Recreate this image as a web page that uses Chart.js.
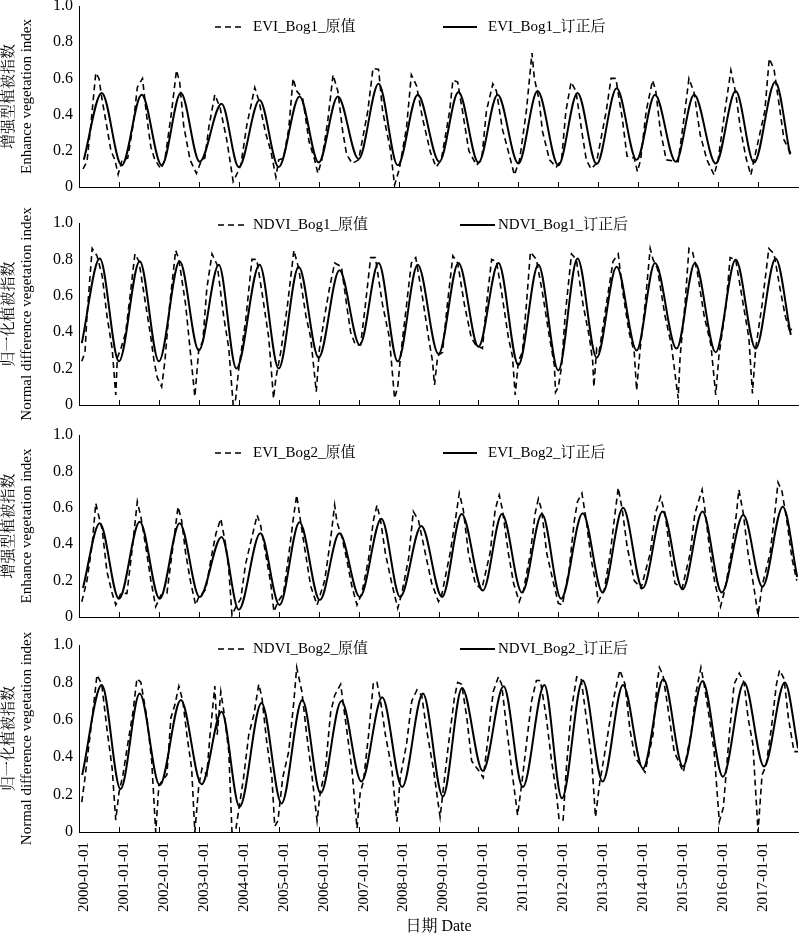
<!DOCTYPE html>
<html>
<head>
<meta charset="utf-8">
<script src="https://cdn.jsdelivr.net/npm/chart.js@4.4.0/dist/chart.umd.min.js"></script>
<style>
  html, body { margin: 0; padding: 0; background: #fff; }
  body { width: 800px; height: 936px; position: relative; overflow: hidden; }
  canvas { position: absolute; left: 0; }
</style>
</head>
<body>
<canvas id="c1"></canvas>
<canvas id="c2"></canvas>
<canvas id="c3"></canvas>
<canvas id="c4"></canvas>
<script>
// tick years on the date axis
const tickYears = [2000, 2001, 2002, 2003, 2004, 2005, 2006, 2007, 2008, 2009,
                   2010, 2011, 2012, 2013, 2014, 2015, 2016, 2017];

// [decimal year, index value]
const eviBog1Raw = [
  [2000.1,0.10],[2000.2,0.14],[2000.3,0.35],[2000.42,0.63],[2000.5,0.60],[2000.58,0.48],[2000.7,0.33],[2000.8,0.20],[2000.9,0.15],[2000.98,0.07],[2001.08,0.15],[2001.22,0.16],
  [2001.36,0.35],[2001.46,0.55],[2001.59,0.60],[2001.7,0.38],[2001.8,0.22],[2001.9,0.15],[2002.05,0.10],[2002.15,0.15],
  [2002.32,0.42],[2002.44,0.645],[2002.52,0.58],[2002.62,0.34],[2002.78,0.15],[2002.94,0.075],[2003.07,0.15],[2003.15,0.16],
  [2003.25,0.33],[2003.4,0.51],[2003.53,0.44],[2003.7,0.26],[2003.86,0.03],[2003.97,0.08],[2004.05,0.12],
  [2004.2,0.34],[2004.4,0.55],[2004.5,0.48],[2004.67,0.30],[2004.8,0.20],[2004.93,0.055],[2005.0,0.15],[2005.12,0.16],
  [2005.25,0.32],[2005.36,0.60],[2005.45,0.53],[2005.6,0.49],[2005.76,0.25],[2005.9,0.15],[2005.98,0.075],[2006.08,0.15],
  [2006.23,0.37],[2006.36,0.62],[2006.48,0.53],[2006.6,0.31],[2006.7,0.18],[2006.84,0.13],[2007.0,0.15],
  [2007.23,0.42],[2007.36,0.655],[2007.5,0.65],[2007.6,0.42],[2007.8,0.20],[2007.9,0.01],[2008.02,0.10],
  [2008.2,0.33],[2008.32,0.62],[2008.45,0.56],[2008.6,0.38],[2008.8,0.19],[2008.94,0.11],[2009.07,0.15],
  [2009.28,0.42],[2009.36,0.59],[2009.48,0.58],[2009.6,0.42],[2009.76,0.20],[2009.95,0.12],[2010.08,0.15],
  [2010.2,0.42],[2010.36,0.57],[2010.45,0.53],[2010.6,0.32],[2010.78,0.17],[2010.9,0.066],[2011.03,0.15],
  [2011.2,0.42],[2011.34,0.74],[2011.4,0.60],[2011.52,0.48],[2011.6,0.31],[2011.78,0.15],[2011.95,0.11],
  [2012.08,0.15],[2012.19,0.42],[2012.32,0.58],[2012.44,0.53],[2012.6,0.29],[2012.7,0.15],[2012.82,0.10],[2012.95,0.13],
  [2013.2,0.42],[2013.32,0.60],[2013.44,0.60],[2013.6,0.38],[2013.72,0.17],[2013.9,0.16],[2013.98,0.085],[2014.06,0.15],
  [2014.2,0.42],[2014.36,0.59],[2014.44,0.53],[2014.55,0.32],[2014.7,0.15],[2015.0,0.14],
  [2015.17,0.42],[2015.27,0.60],[2015.4,0.52],[2015.55,0.29],[2015.72,0.15],[2015.9,0.066],[2016.0,0.15],
  [2016.17,0.42],[2016.32,0.645],[2016.44,0.52],[2016.56,0.32],[2016.7,0.16],[2016.82,0.066],[2016.9,0.15],
  [2017.17,0.42],[2017.28,0.71],[2017.4,0.65],[2017.55,0.42],[2017.65,0.26],[2017.82,0.185]
];
const eviBog1Fit = [
  [2000.12,0.15],[2000.57,0.52],[2001.07,0.12],[2001.57,0.51],[2002.07,0.12],[2002.55,0.52],[2003.02,0.14],[2003.57,0.46],
  [2004.0,0.11],[2004.52,0.48],[2005.0,0.11],[2005.52,0.50],[2006.0,0.135],[2006.48,0.50],[2007.0,0.155],[2007.5,0.57],
  [2007.98,0.12],[2008.48,0.51],[2009.02,0.14],[2009.5,0.525],[2010.0,0.135],[2010.48,0.51],[2011.0,0.13],[2011.48,0.53],
  [2012.0,0.12],[2012.48,0.52],[2012.96,0.127],[2013.46,0.545],[2013.96,0.15],[2014.42,0.51],[2014.94,0.14],[2015.4,0.51],
  [2015.94,0.13],[2016.44,0.53],[2016.9,0.135],[2017.43,0.58],[2017.8,0.18]
];

const ndviBog1Raw = [
  [2000.07,0.24],[2000.15,0.29],[2000.2,0.49],[2000.33,0.86],[2000.45,0.82],[2000.58,0.71],[2000.7,0.49],[2000.83,0.31],[2000.92,0.055],[2000.96,0.26],[2001.05,0.31],[2001.17,0.40],
  [2001.3,0.64],[2001.4,0.83],[2001.5,0.79],[2001.67,0.55],[2001.8,0.37],[2001.88,0.24],[2001.96,0.15],[2002.07,0.10],[2002.15,0.24],
  [2002.27,0.55],[2002.42,0.85],[2002.5,0.80],[2002.67,0.55],[2002.77,0.33],[2002.9,0.046],[2003.0,0.31],[2003.1,0.35],
  [2003.2,0.64],[2003.33,0.83],[2003.46,0.77],[2003.62,0.49],[2003.75,0.31],[2003.86,0.0],[2003.92,0.03],[2004.0,0.20],
  [2004.17,0.46],[2004.33,0.80],[2004.45,0.80],[2004.58,0.62],[2004.75,0.37],[2004.87,0.036],[2004.93,0.15],[2005.05,0.29],
  [2005.22,0.55],[2005.38,0.85],[2005.5,0.75],[2005.68,0.49],[2005.8,0.37],[2005.94,0.073],[2006.02,0.31],
  [2006.15,0.49],[2006.27,0.64],[2006.4,0.78],[2006.57,0.76],[2006.7,0.55],[2006.8,0.40],[2006.92,0.33],[2007.05,0.33],
  [2007.17,0.55],[2007.3,0.81],[2007.42,0.81],[2007.6,0.55],[2007.77,0.37],[2007.9,0.036],[2007.98,0.10],[2008.05,0.27],
  [2008.2,0.55],[2008.32,0.78],[2008.43,0.81],[2008.6,0.59],[2008.75,0.37],[2008.85,0.24],[2008.9,0.11],[2008.98,0.27],[2009.1,0.29],
  [2009.22,0.55],[2009.36,0.82],[2009.48,0.78],[2009.65,0.55],[2009.82,0.37],[2009.93,0.33],[2010.1,0.31],
  [2010.2,0.55],[2010.33,0.80],[2010.45,0.79],[2010.58,0.62],[2010.75,0.37],[2010.85,0.27],[2010.92,0.055],[2011.0,0.24],[2011.1,0.29],
  [2011.2,0.55],[2011.3,0.84],[2011.45,0.80],[2011.6,0.62],[2011.78,0.37],[2011.9,0.22],[2011.93,0.07],[2012.0,0.10],[2012.08,0.21],
  [2012.17,0.49],[2012.33,0.83],[2012.45,0.80],[2012.62,0.55],[2012.78,0.37],[2012.86,0.24],[2012.89,0.10],[2012.96,0.31],[2013.02,0.29],
  [2013.2,0.55],[2013.37,0.79],[2013.5,0.83],[2013.6,0.64],[2013.77,0.40],[2013.9,0.29],[2013.96,0.08],[2014.04,0.29],
  [2014.17,0.55],[2014.3,0.86],[2014.37,0.80],[2014.48,0.75],[2014.67,0.49],[2014.83,0.33],[2015.0,0.036],[2015.05,0.27],
  [2015.17,0.55],[2015.27,0.86],[2015.36,0.84],[2015.48,0.73],[2015.65,0.49],[2015.82,0.33],[2015.94,0.055],[2016.02,0.27],
  [2016.2,0.55],[2016.3,0.81],[2016.44,0.80],[2016.6,0.59],[2016.77,0.37],[2016.86,0.064],[2016.94,0.31],
  [2017.1,0.55],[2017.27,0.86],[2017.4,0.83],[2017.55,0.64],[2017.68,0.49],[2017.8,0.40],[2017.84,0.42]
];
const ndviBog1Fit = [
  [2000.07,0.34],[2000.52,0.805],[2001.0,0.24],[2001.52,0.79],[2002.0,0.24],[2002.52,0.79],[2003.0,0.30],[2003.5,0.77],
  [2003.94,0.20],[2004.52,0.77],[2005.0,0.20],[2005.5,0.76],[2006.0,0.26],[2006.52,0.74],[2007.03,0.33],[2007.5,0.78],
  [2007.98,0.24],[2008.48,0.77],[2009.0,0.28],[2009.5,0.78],[2010.0,0.32],[2010.5,0.78],[2011.0,0.22],[2011.5,0.77],
  [2012.0,0.19],[2012.48,0.805],[2012.96,0.26],[2013.46,0.76],[2013.96,0.30],[2014.42,0.78],[2014.96,0.31],[2015.42,0.78],
  [2015.94,0.29],[2016.44,0.80],[2016.94,0.31],[2017.44,0.805],[2017.82,0.385]
];

const eviBog2Raw = [
  [2000.07,0.084],[2000.2,0.20],[2000.33,0.40],[2000.42,0.625],[2000.5,0.55],[2000.58,0.48],[2000.7,0.25],[2000.83,0.13],[2000.92,0.066],[2001.05,0.13],[2001.2,0.13],
  [2001.33,0.37],[2001.46,0.634],[2001.55,0.55],[2001.67,0.39],[2001.8,0.20],[2001.92,0.057],[2002.05,0.12],[2002.2,0.13],
  [2002.33,0.35],[2002.48,0.606],[2002.57,0.53],[2002.67,0.35],[2002.8,0.185],[2002.92,0.066],[2003.0,0.11],[2003.17,0.15],
  [2003.33,0.35],[2003.43,0.46],[2003.55,0.54],[2003.67,0.40],[2003.75,0.26],[2003.83,0.01],[2003.93,0.057],[2004.05,0.10],
  [2004.17,0.29],[2004.33,0.44],[2004.46,0.56],[2004.55,0.50],[2004.67,0.35],[2004.8,0.185],[2004.88,0.03],[2004.98,0.084],[2005.12,0.13],
  [2005.28,0.39],[2005.37,0.55],[2005.45,0.67],[2005.53,0.55],[2005.67,0.35],[2005.8,0.17],[2005.96,0.066],
  [2006.15,0.20],[2006.3,0.43],[2006.4,0.615],[2006.46,0.52],[2006.58,0.44],[2006.7,0.32],[2006.83,0.17],[2006.96,0.066],[2007.08,0.13],
  [2007.25,0.32],[2007.37,0.53],[2007.46,0.615],[2007.55,0.53],[2007.67,0.35],[2007.83,0.185],[2007.98,0.048],[2008.08,0.13],
  [2008.25,0.32],[2008.37,0.58],[2008.5,0.53],[2008.67,0.35],[2008.83,0.185],[2009.0,0.084],[2009.07,0.11],
  [2009.29,0.35],[2009.42,0.53],[2009.52,0.68],[2009.62,0.59],[2009.75,0.35],[2009.92,0.185],[2010.08,0.15],
  [2010.29,0.35],[2010.42,0.59],[2010.52,0.67],[2010.6,0.59],[2010.75,0.35],[2010.88,0.185],[2011.02,0.084],[2011.13,0.15],
  [2011.3,0.35],[2011.42,0.57],[2011.5,0.65],[2011.58,0.59],[2011.71,0.35],[2011.88,0.185],[2012.0,0.075],[2012.1,0.066],
  [2012.27,0.26],[2012.4,0.53],[2012.48,0.634],[2012.59,0.68],[2012.7,0.53],[2012.82,0.32],[2012.95,0.17],[2013.0,0.084],[2013.15,0.15],
  [2013.3,0.35],[2013.42,0.57],[2013.5,0.71],[2013.6,0.59],[2013.72,0.39],[2013.9,0.20],[2014.07,0.158],
  [2014.3,0.35],[2014.43,0.57],[2014.56,0.66],[2014.67,0.57],[2014.8,0.35],[2014.92,0.185],[2015.1,0.158],
  [2015.3,0.35],[2015.42,0.57],[2015.6,0.70],[2015.67,0.59],[2015.8,0.35],[2015.92,0.185],[2016.06,0.057],[2016.17,0.15],
  [2016.33,0.35],[2016.46,0.57],[2016.52,0.70],[2016.63,0.57],[2016.75,0.35],[2016.88,0.185],[2017.0,0.01],[2017.1,0.17],
  [2017.3,0.35],[2017.42,0.57],[2017.5,0.74],[2017.6,0.69],[2017.72,0.53],[2017.85,0.32],[2017.97,0.20]
];
const eviBog2Fit = [
  [2000.1,0.16],[2000.52,0.515],[2001.0,0.10],[2001.52,0.524],[2002.02,0.10],[2002.52,0.515],[2003.02,0.11],[2003.57,0.44],
  [2004.0,0.04],[2004.54,0.46],[2005.02,0.066],[2005.52,0.52],[2006.03,0.093],[2006.52,0.46],[2007.03,0.11],[2007.57,0.54],
  [2008.04,0.11],[2008.57,0.50],[2009.09,0.11],[2009.58,0.566],[2010.11,0.145],[2010.59,0.566],[2011.09,0.134],[2011.59,0.566],
  [2012.07,0.10],[2012.61,0.57],[2013.11,0.134],[2013.62,0.60],[2014.11,0.158],[2014.61,0.58],[2015.11,0.152],[2015.61,0.58],
  [2016.09,0.134],[2016.63,0.56],[2017.11,0.166],[2017.62,0.606],[2017.98,0.22]
];

const ndviBog2Raw = [
  [2000.07,0.16],[2000.15,0.29],[2000.2,0.38],[2000.33,0.61],[2000.45,0.84],[2000.57,0.79],[2000.7,0.55],[2000.83,0.34],[2000.92,0.064],[2001.0,0.21],[2001.1,0.305],
  [2001.22,0.47],[2001.35,0.64],[2001.45,0.82],[2001.55,0.80],[2001.7,0.61],[2001.82,0.38],[2001.92,0.0],[2002.0,0.25],
  [2002.2,0.305],[2002.3,0.61],[2002.4,0.68],[2002.5,0.78],[2002.6,0.70],[2002.7,0.52],[2002.82,0.34],[2002.9,0.0],[2003.0,0.25],[2003.08,0.34],
  [2003.2,0.305],[2003.28,0.52],[2003.4,0.78],[2003.46,0.52],[2003.55,0.75],[2003.63,0.64],[2003.75,0.43],[2003.83,0.0],[2003.93,0.02],
  [2004.12,0.29],[2004.25,0.52],[2004.38,0.63],[2004.5,0.79],[2004.58,0.72],[2004.7,0.48],[2004.83,0.29],[2004.9,0.03],[2004.98,0.06],[2005.1,0.29],
  [2005.25,0.43],[2005.38,0.70],[2005.45,0.88],[2005.58,0.75],[2005.7,0.52],[2005.83,0.305],[2005.96,0.06],[2006.04,0.21],
  [2006.17,0.34],[2006.3,0.64],[2006.4,0.73],[2006.55,0.79],[2006.7,0.55],[2006.83,0.34],[2006.96,0.02],[2007.04,0.21],[2007.12,0.27],
  [2007.25,0.52],[2007.37,0.80],[2007.46,0.80],[2007.55,0.70],[2007.67,0.52],[2007.83,0.34],[2007.96,0.055],[2008.04,0.29],
  [2008.2,0.47],[2008.33,0.70],[2008.46,0.76],[2008.58,0.73],[2008.7,0.55],[2008.87,0.34],[2009.04,0.08],[2009.12,0.23],
  [2009.25,0.47],[2009.4,0.72],[2009.48,0.80],[2009.58,0.79],[2009.71,0.61],[2009.83,0.38],[2010.0,0.33],[2010.12,0.29],
  [2010.25,0.52],[2010.37,0.75],[2010.5,0.83],[2010.58,0.79],[2010.71,0.55],[2010.83,0.34],[2010.98,0.09],[2011.08,0.25],
  [2011.2,0.47],[2011.33,0.70],[2011.45,0.81],[2011.55,0.81],[2011.7,0.61],[2011.83,0.38],[2011.95,0.21],[2012.02,0.064],[2012.12,0.064],
  [2012.2,0.34],[2012.33,0.66],[2012.46,0.83],[2012.57,0.82],[2012.7,0.61],[2012.83,0.40],[2012.93,0.08],[2013.04,0.27],
  [2013.2,0.47],[2013.37,0.70],[2013.54,0.866],[2013.67,0.79],[2013.79,0.55],[2013.92,0.40],[2014.17,0.32],
  [2014.37,0.52],[2014.47,0.79],[2014.53,0.88],[2014.62,0.84],[2014.78,0.61],[2014.9,0.43],[2015.13,0.32],
  [2015.32,0.52],[2015.45,0.75],[2015.57,0.88],[2015.65,0.79],[2015.78,0.61],[2015.9,0.43],[2016.03,0.055],[2016.13,0.13],
  [2016.28,0.52],[2016.4,0.79],[2016.53,0.85],[2016.65,0.80],[2016.75,0.61],[2016.87,0.47],[2017.0,0.0],[2017.1,0.305],[2017.2,0.355],
  [2017.33,0.55],[2017.46,0.79],[2017.54,0.866],[2017.65,0.82],[2017.76,0.61],[2017.9,0.43],[2018.0,0.43]
];
const ndviBog2Fit = [
  [2000.08,0.305],[2000.57,0.786],[2001.04,0.23],[2001.52,0.74],[2002.02,0.25],[2002.55,0.706],[2003.07,0.255],[2003.57,0.643],
  [2004.02,0.135],[2004.57,0.69],[2005.07,0.153],[2005.59,0.706],[2006.05,0.207],[2006.57,0.70],[2007.07,0.27],[2007.59,0.72],
  [2008.09,0.24],[2008.61,0.74],[2009.11,0.19],[2009.59,0.77],[2010.11,0.326],[2010.63,0.78],[2011.11,0.24],[2011.65,0.786],
  [2012.09,0.18],[2012.61,0.81],[2013.11,0.27],[2013.62,0.786],[2014.12,0.34],[2014.63,0.818],[2015.12,0.35],[2015.61,0.807],
  [2016.12,0.296],[2016.65,0.80],[2017.15,0.35],[2017.67,0.80],[2018.0,0.448]
];

const FONT = "'Liberation Serif', 'Noto Serif CJK SC', 'Noto Sans CJK SC', serif";
Chart.defaults.font.family = FONT;
Chart.defaults.color = '#000';

function toXY(pairs) {
  return pairs.map(p => ({ x: p[0], y: p[1] }));
}

// legend drawn inside the plot, two items on one row
const panelLegend = {
  id: 'panelLegend',
  afterDraw(chart, args, opts) {
    const ctx = chart.ctx;
    const y = chart.chartArea.top + opts.dy;
    ctx.save();
    ctx.font = '15px ' + FONT;
    ctx.fillStyle = '#000';
    ctx.strokeStyle = '#000';
    ctx.textBaseline = 'middle';
    chart.data.datasets.forEach((ds, i) => {
      const it = opts.items[i];
      ctx.beginPath();
      ctx.setLineDash(ds.borderDash || []);
      ctx.lineWidth = ds.borderWidth;
      ctx.moveTo(it.x0, y);
      ctx.lineTo(it.x1, y);
      ctx.stroke();
      ctx.setLineDash([]);
      ctx.fillText(ds.label, it.tx, y);
    });
    ctx.restore();
  }
};

// short tick marks pointing up into the plot
const innerTicks = {
  id: 'innerTicks',
  afterDraw(chart) {
    const ctx = chart.ctx;
    const xs = chart.scales.x;
    const b = chart.chartArea.bottom;
    ctx.save();
    ctx.strokeStyle = '#000';
    ctx.lineWidth = 1;
    ctx.beginPath();
    tickYears.forEach(v => {
      const px = Math.round(xs.getPixelForValue(v)) + 0.5;
      ctx.moveTo(px, b);
      ctx.lineTo(px, b - 5);
    });
    ctx.stroke();
    ctx.restore();
  }
};

function drawPanel(id, top, bottom, raw, fit, names, yTitle, isLast, legend) {
  const cv = document.getElementById(id);
  const padTop = 24;
  const xH = isLast ? 936 - bottom : 30;
  cv.width = 800;
  cv.height = (bottom - top) + padTop + xH;
  cv.style.top = (top - padTop) + 'px';

  new Chart(cv, {
    type: 'line',
    data: {
      datasets: [
        { label: names[0], data: toXY(raw), borderColor: '#000', borderWidth: 1.6,
          borderDash: [6, 4], pointRadius: 0, tension: 0, fill: false },
        { label: names[1], data: toXY(fit), borderColor: '#000', borderWidth: 2,
          pointRadius: 0, cubicInterpolationMode: 'monotone', fill: false }
      ]
    },
    options: {
      responsive: false,
      animation: false,
      devicePixelRatio: 1,
      layout: { padding: { top: padTop, right: 2, bottom: 0, left: 0 } },
      plugins: {
        legend: { display: false },
        tooltip: { enabled: false },
        panelLegend: legend
      },
      scales: {
        x: {
          type: 'linear',
          min: 2000,
          max: 2018,
          afterBuildTicks: s => { s.ticks = tickYears.map(v => ({ value: v })); },
          afterFit: s => { s.height = xH; s.paddingLeft = 0; s.paddingRight = 0; },
          grid: { display: false, drawTicks: false },
          border: { display: true, color: '#000', width: 1 },
          ticks: {
            display: isLast,
            autoSkip: false,
            minRotation: 90,
            maxRotation: 90,
            padding: 10,
            labelOffset: 5,
            font: { size: 15 },
            callback: v => v + '-01-01'
          },
          title: { display: isLast, text: '日期 Date', font: { size: 16 }, padding: { top: 0, bottom: 0 } }
        },
        y: {
          min: 0,
          max: 1,
          afterFit: s => { s.width = 79; s.paddingTop = 0; s.paddingBottom = 0; },
          grid: { display: false, drawTicks: false },
          border: { display: true, color: '#000', width: 1 },
          ticks: {
            stepSize: 0.2,
            padding: 6,
            font: { size: 16 },
            callback: v => v === 0 ? '0' : v.toFixed(1)
          },
          title: { display: true, text: yTitle, font: { size: 15 }, padding: { top: 0, bottom: 0 } }
        }
      }
    },
    plugins: [panelLegend, innerTicks]
  });
}

const eviTitle = ['增强型植被指数', 'Enhance vegetation index'];
const ndviTitle = ['归一化植被指数', 'Normal difference vegetation index'];
const legendA = dy => ({ dy: dy, items: [{ x0: 215, x1: 245, tx: 253 }, { x0: 443, x1: 477, tx: 488 }] });
const legendB = dy => ({ dy: dy, items: [{ x0: 218, x1: 247, tx: 253 }, { x0: 460, x1: 495, tx: 498 }] });

drawPanel('c1', 6, 187, eviBog1Raw, eviBog1Fit, ['EVI_Bog1_原值', 'EVI_Bog1_订正后'], eviTitle, false, legendA(21));
drawPanel('c2', 223, 405, ndviBog1Raw, ndviBog1Fit, ['NDVI_Bog1_原值', 'NDVI_Bog1_订正后'], ndviTitle, false, legendB(2));
drawPanel('c3', 435, 617, eviBog2Raw, eviBog2Fit, ['EVI_Bog2_原值', 'EVI_Bog2_订正后'], eviTitle, false, legendA(18));
drawPanel('c4', 645, 832, ndviBog2Raw, ndviBog2Fit, ['NDVI_Bog2_原值', 'NDVI_Bog2_订正后'], ndviTitle, true, legendB(4));
</script>
</body>
</html>
